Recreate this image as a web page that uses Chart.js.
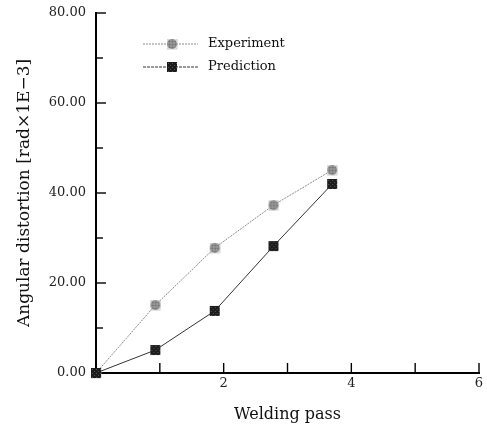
<!DOCTYPE html>
<html lang="en">
<head>
  <meta charset="UTF-8">
  <title>Angular distortion vs welding pass</title>
  <script src="https://cdn.jsdelivr.net/npm/chart.js@4"></script>
  <style>
    html, body { margin:0; padding:0; background:#fff; }
    #wrap { width:487px; height:428px; position:relative; }
  </style>
</head>
<body>
  <div id="wrap"><canvas id="chart"></canvas></div>

<script>
// welding pass positions and measured / predicted angular distortion (rad x 1E-3)
const passX      = [0, 0.93, 1.86, 2.78, 3.70];
const experiment = [0, 15.1, 27.8, 37.3, 45.1];
const prediction = [0, 5.1, 13.8, 28.2, 42.0];
const xLabels    = {2:"2", 4:"4", 6:"6"};

const FONT = "'DejaVu Serif', 'Liberation Serif', serif";

const pts = ys => passX.map((x,i)=>({x, y:ys[i]}));

// hatched gray disc like the scanned symbol
function discMarker(){
  const c=document.createElement("canvas"); c.width=c.height=12;
  const g=c.getContext("2d");
  g.fillStyle="#6f6f6f"; g.beginPath(); g.arc(6,6,5,0,Math.PI*2); g.fill();
  g.strokeStyle="#b5b5b5"; g.lineWidth=0.7;
  for(let k=2;k<12;k+=3){ g.beginPath(); g.moveTo(k,1); g.lineTo(k,11); g.stroke(); g.beginPath(); g.moveTo(1,k); g.lineTo(11,k); g.stroke(); }
  return c;
}
function squareMarker(){
  const c=document.createElement("canvas"); c.width=c.height=12;
  const g=c.getContext("2d");
  g.fillStyle="#1c1c1c"; g.fillRect(1,1,10,10);
  g.fillStyle="#555";
  for(let i=2;i<11;i+=2) for(let j=2;j<11;j+=2) if((i+j)%4===0) g.fillRect(i,j,1,1);
  return c;
}
const disc=discMarker(), square=squareMarker();

// inward tick marks + legend
const decor={
  id:"decor",
  afterDatasetsDraw(ch){
    const {ctx,chartArea:a,scales:{x,y}}=ch;
    ctx.save();
    ctx.strokeStyle="#000"; ctx.lineWidth=1.4;
    for(let v=1; v<=6; v++){
      const px=x.getPixelForValue(v);
      ctx.beginPath(); ctx.moveTo(px,a.bottom); ctx.lineTo(px,a.bottom-10); ctx.stroke();
    }
    for(let v=10; v<=80; v+=10){
      const py=y.getPixelForValue(v);
      const len = v%20===0 ? 10 : 7;
      ctx.beginPath(); ctx.moveTo(a.left,py); ctx.lineTo(a.left+len,py); ctx.stroke();
    }
    // legend
    const rows=[
      {label:"Experiment", img:disc, color:"#8a8a8a", dash:[2,1], yy:44},
      {label:"Prediction", img:square, color:"#333", dash:[3,1], yy:67}
    ];
    ctx.font="13px "+FONT; ctx.fillStyle="#111"; ctx.textBaseline="middle";
    rows.forEach(r=>{
      ctx.strokeStyle=r.color; ctx.lineWidth=1; ctx.setLineDash(r.dash);
      ctx.beginPath(); ctx.moveTo(143,r.yy); ctx.lineTo(198,r.yy); ctx.stroke();
      ctx.setLineDash([]);
      ctx.drawImage(r.img,166,r.yy-6);
      ctx.fillText(r.label,208,r.yy);
    });
    ctx.restore();
  }
};

new Chart(document.getElementById("chart"),{
  type:"scatter",
  data:{datasets:[
    {label:"Experiment", data:pts(experiment), showLine:true, clip:false, order:1,
     borderColor:"#8a8a8a", borderWidth:1, borderDash:[2,1],
     pointStyle:disc, pointRadius:6},
    {label:"Prediction", data:pts(prediction), showLine:true, clip:false, order:0,
     borderColor:"#333", borderWidth:1,
     pointStyle:square, pointRadius:6}
  ]},
  options:{
    responsive:true, maintainAspectRatio:false, animation:false,
    layout:{padding:{top:13, right:8, left:10, bottom:0}},
    plugins:{legend:{display:false}, tooltip:{enabled:false}},
    scales:{
      x:{
        type:"linear", min:0, max:6,
        border:{color:"#000", width:2},
        grid:{display:false, drawTicks:false},
        ticks:{stepSize:1, padding:3, color:"#222", font:{family:FONT, size:13},
               callback:v=>xLabels[v]||""},
        title:{display:true, text:"Welding pass", color:"#111",
               font:{family:FONT, size:16}, padding:{top:9}},
        afterFit:s=>{ s.height=55; s.paddingRight=0; }
      },
      y:{
        min:0, max:80,
        border:{color:"#000", width:2},
        grid:{display:false, drawTicks:false},
        ticks:{stepSize:10, padding:10, color:"#222", font:{family:FONT, size:13},
               callback:v=>v%20===0 ? v.toFixed(2) : ""},
        title:{display:true, text:"Angular distortion [rad\u00d71E\u22123]", color:"#111",
               font:{family:FONT, size:17}},
        afterFit:s=>{ s.width=86; s.paddingTop=0; s.paddingBottom=0; }
      }
    }
  },
  plugins:[decor]
});
</script>
</body>
</html>
